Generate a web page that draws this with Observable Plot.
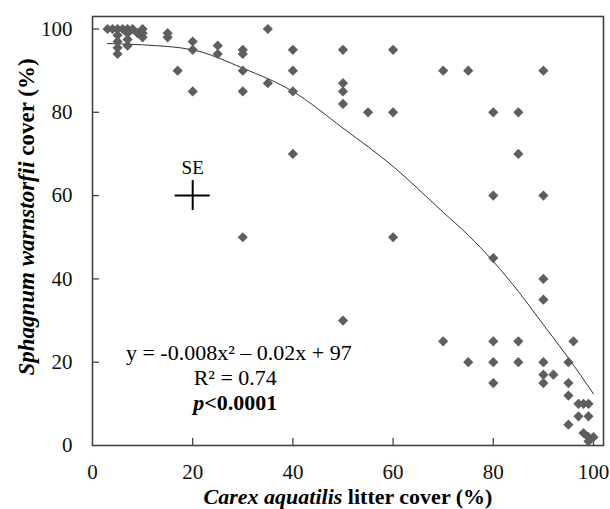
<!DOCTYPE html>
<html>
<head>
<meta charset="utf-8">
<script src="https://cdn.jsdelivr.net/npm/d3@7"></script>
<script src="https://cdn.jsdelivr.net/npm/@observablehq/plot@0.6"></script>
<style>
  html, body { margin: 0; padding: 0; background: #fff; }
</style>
</head>
<body>
<div id="chart"></div>
<script>
// Carex aquatilis litter cover (%) for each plot
const litterCover = [
  3, 4, 5, 6, 7, 8,
  5, 5, 5, 5,
  7, 7, 7,
  9, 10, 10, 10,
  15, 15,
  17,
  20, 20, 20,
  25, 25,
  30, 30, 30, 30, 30,
  35, 35,
  40, 40, 40, 40,
  50, 50, 50, 50, 50,
  55,
  60, 60, 60,
  70, 70,
  75, 75,
  80, 80, 80, 80, 80, 80,
  85, 85, 85, 85,
  90, 90, 90, 90, 90, 90, 90,
  92,
  95, 95, 95, 95,
  96,
  97, 98, 99, 97, 99,
  98, 99, 100, 99
];
// Sphagnum warnstorfii cover (%) for each plot
const sphagnumCover = [
  100, 100, 100, 100, 100, 100,
  98.5, 97, 95.5, 94,
  99, 97.5, 96,
  99, 100, 99, 98,
  99, 98,
  90,
  97, 95, 85,
  96, 94,
  95, 94, 90, 85, 50,
  100, 87,
  95, 90, 85, 70,
  95, 87, 85, 82, 30,
  80,
  95, 80, 50,
  90, 25,
  90, 20,
  80, 60, 45, 25, 20, 15,
  80, 70, 25, 20,
  90, 60, 40, 35, 20, 17, 15,
  17,
  20, 15, 12, 5,
  25,
  10, 10, 10, 7, 7,
  3, 2, 2, 1
];

// fitted quadratic curve
const fitX = [3, 10, 20, 30, 40, 50, 60, 70, 75, 80, 85, 90, 95, 100];
const fitY = [96.5, 96.2, 95, 90.6, 85, 76.2, 67, 56, 50.5, 44.2, 37, 29, 21, 12.4];

// standard error cross
const seX = [20];
const seY = [60];
const seXErr = [3.5];
const seYErr = [3.6];

const xTicks = [0, 20, 40, 60, 80, 100];
const yTicks = [0, 20, 40, 60, 80, 100];

const equationText = "y = -0.008x\u00B2 \u2013 0.02x + 97";
const r2Text = "R\u00B2 = 0.74";

const points = litterCover.map((x, i) => ({x, y: sphagnumCover[i]}));
const fit = fitX.map((x, i) => ({x, y: fitY[i]}));

const serif = "'Liberation Serif', 'Times New Roman', Times, serif";
const ink = "#444";

const plot = Plot.plot({
  width: 610,
  height: 509,
  marginLeft: 92,
  marginRight: 7,
  marginTop: 16,
  marginBottom: 64,
  x: {domain: [0, 102]},
  y: {domain: [0, 103]},
  style: {fontFamily: serif, fontSize: "21px", color: "#111", background: "#fff"},
  marks: [
    Plot.axisX(xTicks, {tickSize: 0, tickPadding: 19, label: null, tickFormat: d => String(d), fontSize: 21}),
    Plot.axisY(yTicks, {tickSize: 0, tickPadding: 20, label: null, tickFormat: d => String(d), fontSize: 21}),
    Plot.ruleX(xTicks.slice(1), {x: d => d, y1: 0, y2: 1.7, stroke: ink, strokeWidth: 1.3}),
    Plot.ruleY(yTicks.slice(1), {y: d => d, x1: 0, x2: 1.4, stroke: ink, strokeWidth: 1.3}),
    Plot.frame({stroke: ink, strokeWidth: 1.6}),
    Plot.line(fit, {x: "x", y: "y", curve: "monotone-x", stroke: "#333", strokeWidth: 1}),
    Plot.dot(points, {x: "x", y: "y", symbol: "diamond2", r: 4.6, fill: "#5e5e5e", stroke: "none"}),
    Plot.ruleY(seY, {y: d => d, x1: (d, i) => seX[i] - seXErr[i], x2: (d, i) => seX[i] + seXErr[i], stroke: "#000", strokeWidth: 2}),
    Plot.ruleX(seX, {x: d => d, y1: (d, i) => seY[i] - seYErr[i], y2: (d, i) => seY[i] + seYErr[i], stroke: "#000", strokeWidth: 2}),
    Plot.text(["SE"], {x: seX[0], y: seY[0] + 6.6, text: d => d, fontSize: 19, fill: "#000"}),
    Plot.text([equationText], {x: 29.2, y: 22.1, text: d => d, fontSize: 22, fill: "#000"}),
    Plot.text([r2Text], {x: 28.5, y: 16.3, text: d => d, fontSize: 22, fill: "#000"})
  ]
});

document.getElementById("chart").appendChild(plot);

// mixed-style texts (italic species names / bold p value)
const svg = d3.select(plot);
const sx = plot.scale("x"), sy = plot.scale("y");

const pText = svg.append("text")
  .attr("x", sx.apply(28.6)).attr("y", sy.apply(10.0))
  .attr("dy", "0.32em")
  .attr("text-anchor", "middle")
  .attr("font-family", serif).attr("font-size", 22).attr("font-weight", "bold").attr("fill", "#000");
pText.append("tspan").attr("font-style", "italic").text("p");
pText.append("tspan").text("<0.0001");

const xTitle = svg.append("text")
  .attr("x", 348).attr("y", 504)
  .attr("text-anchor", "middle")
  .attr("font-family", serif).attr("font-size", 22).attr("font-weight", "bold").attr("fill", "#000");
xTitle.append("tspan").attr("font-style", "italic").text("Carex aquatilis");
xTitle.append("tspan").text(" litter cover (%)");

const yTitle = svg.append("text")
  .attr("transform", "translate(34,217) rotate(-90)")
  .attr("text-anchor", "middle")
  .attr("font-family", serif).attr("font-size", 23).attr("font-weight", "bold").attr("fill", "#000");
yTitle.append("tspan").attr("font-style", "italic").text("Sphagnum warnstorfii");
yTitle.append("tspan").text(" cover (%)");
</script>
</body>
</html>
